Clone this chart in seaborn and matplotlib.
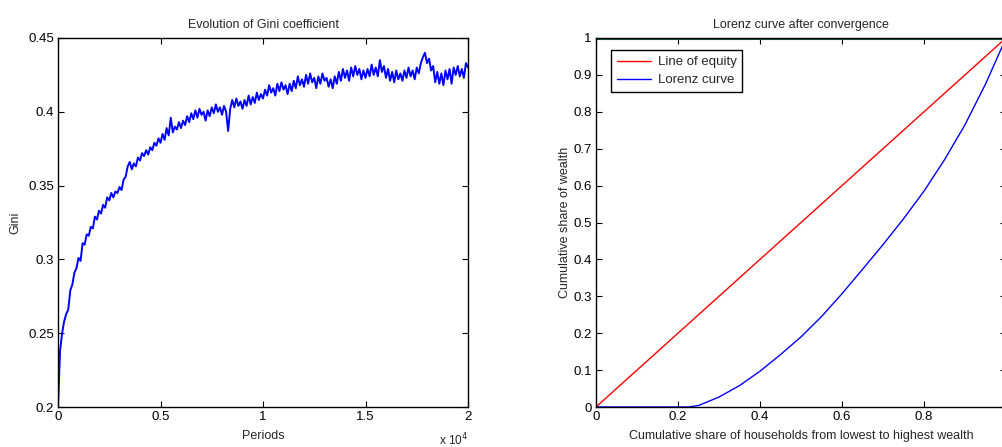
import numpy as np
import pandas as pd
import matplotlib
matplotlib.use("Agg")
import matplotlib.pyplot as plt
import seaborn as sns

# ---------------- data ----------------
periods = np.arange(0, 20001, 100)
gini = [
    0.200, 0.238, 0.250, 0.258, 0.263, 0.266, 0.279, 0.283, 0.291, 0.294,
    0.301, 0.299, 0.311, 0.310, 0.317, 0.316, 0.322, 0.321, 0.329, 0.327,
    0.333, 0.331, 0.337, 0.335, 0.342, 0.340, 0.345, 0.342, 0.346, 0.345,
    0.349, 0.347, 0.354, 0.356, 0.363, 0.366, 0.361, 0.365, 0.363, 0.369,
    0.367, 0.372, 0.370, 0.374, 0.371, 0.376, 0.374, 0.379, 0.377, 0.382,
    0.379, 0.385, 0.381, 0.389, 0.384, 0.396, 0.386, 0.390, 0.388, 0.393,
    0.389, 0.394, 0.391, 0.397, 0.393, 0.399, 0.395, 0.401, 0.396, 0.402,
    0.398, 0.400, 0.394, 0.401, 0.397, 0.403, 0.399, 0.405, 0.400, 0.403,
    0.398, 0.404, 0.400, 0.387, 0.402, 0.408, 0.403, 0.409, 0.404, 0.407,
    0.402, 0.408, 0.404, 0.411, 0.405, 0.410, 0.406, 0.413, 0.408, 0.412,
    0.409, 0.415, 0.411, 0.418, 0.413, 0.416, 0.411, 0.419, 0.414, 0.420,
    0.415, 0.418, 0.412, 0.419, 0.414, 0.421, 0.416, 0.424, 0.418, 0.422,
    0.417, 0.425, 0.419, 0.426, 0.420, 0.423, 0.416, 0.424, 0.419, 0.426,
    0.421, 0.423, 0.417, 0.422, 0.416, 0.424, 0.419, 0.427, 0.421, 0.429,
    0.423, 0.428, 0.421, 0.430, 0.424, 0.431, 0.425, 0.429, 0.422, 0.428,
    0.423, 0.429, 0.424, 0.432, 0.425, 0.430, 0.424, 0.435, 0.427, 0.431,
    0.423, 0.429, 0.421, 0.427, 0.420, 0.428, 0.422, 0.426, 0.421, 0.428,
    0.423, 0.430, 0.424, 0.428, 0.422, 0.430, 0.426, 0.433, 0.437, 0.440,
    0.433, 0.436, 0.428, 0.431, 0.420, 0.427, 0.419, 0.426, 0.418, 0.428,
    0.422, 0.429, 0.419, 0.430, 0.425, 0.431, 0.424, 0.429, 0.423, 0.433,
    0.430,
]
gini_xticks = [0, 5000, 10000, 15000, 20000]
gini_xticklabels = ["0", "0.5", "1", "1.5", "2"]
gini_yticks = [0.2, 0.25, 0.3, 0.35, 0.4, 0.45]
gini_yticklabels = ["0.2", "0.25", "0.3", "0.35", "0.4", "0.45"]

equity_x = [0.0, 1.0]
equity_y = [0.0, 1.0]
top_x = [0.0, 1.0]
top_y = [1.0, 1.0]
lorenz_x = [0.0, 0.1, 0.2, 0.225, 0.25, 0.3, 0.35, 0.4, 0.45, 0.5,
            0.55, 0.6, 0.65, 0.7, 0.75, 0.8, 0.85, 0.9, 0.95, 1.0]
lorenz_y = [0.0, 0.0, 0.0, 0.0, 0.004, 0.027, 0.058, 0.097, 0.142, 0.190,
            0.245, 0.307, 0.373, 0.440, 0.510, 0.585, 0.670, 0.765, 0.875, 1.0]
lor_xticks = [0, 0.2, 0.4, 0.6, 0.8, 1.0]
lor_xticklabels = ["0", "0.2", "0.4", "0.6", "0.8", ""]
lor_yticks = [0, 0.1, 0.2, 0.3, 0.4, 0.5, 0.6, 0.7, 0.8, 0.9, 1.0]
lor_yticklabels = ["0", "0.1", "0.2", "0.3", "0.4", "0.5", "0.6", "0.7", "0.8", "0.9", "1"]

df_gini = pd.DataFrame({"Periods": periods, "Gini": gini})
df_eq = pd.DataFrame({"x": equity_x, "y": equity_y})
df_top = pd.DataFrame({"x": top_x, "y": top_y})
df_lor = pd.DataFrame({"x": lorenz_x, "y": lorenz_y})

# ---------------- style ----------------
sns.set_style("ticks")
plt.rcParams["font.family"] = ["Liberation Sans", "DejaVu Sans"]
plt.rcParams["xtick.direction"] = "in"
plt.rcParams["ytick.direction"] = "in"
plt.rcParams["axes.linewidth"] = 1.0
plt.rcParams["axes.edgecolor"] = "black"

fig = plt.figure(figsize=(10.02, 4.47), dpi=100)
W, H = 1002.0, 447.0
ax1 = fig.add_axes([58 / W, 40 / H, 410 / W, 369 / H])
ax2 = fig.add_axes([596 / W, 40 / H, 410 / W, 369 / H])

tick_fs = 9.5
lab_fs = 9

# ---- left: Gini evolution ----
sns.lineplot(data=df_gini, x="Periods", y="Gini", ax=ax1, color="#0000ff",
             linewidth=1.4, estimator=None, sort=False)
ax1.set_xlim(0, 20000)
ax1.set_ylim(0.2, 0.45)
ax1.set_xticks(gini_xticks)
ax1.set_xticklabels(gini_xticklabels)
ax1.set_yticks(gini_yticks)
ax1.set_yticklabels(gini_yticklabels)
ax1.set_title("Evolution of Gini coefficient", fontsize=lab_fs, pad=7)
ax1.set_xlabel("Periods", fontsize=lab_fs, labelpad=5)
ax1.set_ylabel("Gini", fontsize=lab_fs, labelpad=5)
ax1.text(1.0, -0.068, r"x 10$^4$", transform=ax1.transAxes, fontsize=8.5,
         ha="right", va="top")

# ---- right: Lorenz curve ----
sns.lineplot(data=df_top, x="x", y="y", ax=ax2, color="#155a4c",
             linewidth=2.2, estimator=None, sort=False)
sns.lineplot(data=df_eq, x="x", y="y", ax=ax2, color="#ff0000",
             linewidth=1.0, estimator=None, sort=False, label="Line of equity")
sns.lineplot(data=df_lor, x="x", y="y", ax=ax2, color="#0000ff",
             linewidth=1.0, estimator=None, sort=False, label="Lorenz curve")
ax2.set_xlim(0, 1)
ax2.set_ylim(0, 1)
ax2.set_xticks(lor_xticks)
ax2.set_xticklabels(lor_xticklabels)
ax2.set_yticks(lor_yticks)
ax2.set_yticklabels(lor_yticklabels)
ax2.set_title("Lorenz curve after convergence", fontsize=lab_fs, pad=7)
ax2.set_xlabel("Cumulative share of households from lowest to highest wealth",
               fontsize=lab_fs, labelpad=5)
ax2.set_ylabel("Cumulative share of wealth", fontsize=lab_fs, labelpad=2)
leg = ax2.legend(loc="upper left", fontsize=9.5, frameon=True, fancybox=False,
                 edgecolor="black", framealpha=1, handlelength=2.6,
                 borderpad=0.45, labelspacing=0.45, handletextpad=0.5,
                 bbox_to_anchor=(0.02, 0.985))
leg.get_frame().set_linewidth(1.0)

for ax in (ax1, ax2):
    for s in ax.spines.values():
        s.set_visible(True)
        s.set_color("black")
    ax.tick_params(axis="both", which="both", direction="in", top=True,
                   right=True, labelsize=tick_fs, length=4, width=0.8, pad=3,
                   colors="black")

fig.savefig("out.png", dpi=100)
